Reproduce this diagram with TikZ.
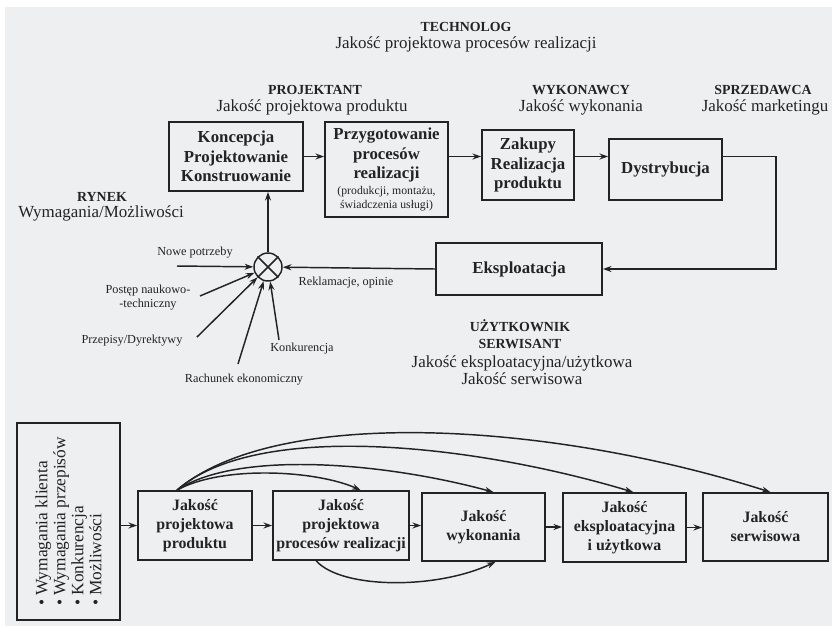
\documentclass[tikz,border=0pt]{standalone}
\usepackage{fontspec}
\setmainfont{Liberation Serif}
\usetikzlibrary{arrows.meta}

\definecolor{paper}{RGB}{238,239,240}
\definecolor{ink}{RGB}{35,35,35}

\tikzset{
  boxtxt/.style={align=center, text=ink, inner sep=0pt, font=\fontsize{12.6}{14.6}\selectfont\bfseries},
  subtxt/.style={align=center, text=ink, inner sep=0pt, font=\fontsize{8.8}{10.5}\selectfont},
  box/.style={draw=ink, line width=1.3pt, align=center, text=ink, inner sep=0pt},
  topbox/.style={box, font=\fontsize{12.6}{14.6}\selectfont\bfseries},
  lowbox/.style={box, font=\fontsize{11.9}{14.25}\selectfont\bfseries},
  role/.style={align=center, text=ink, font=\fontsize{10.4}{12.75}\selectfont\bfseries},
  quality/.style={align=center, text=ink, font=\fontsize{12.7}{12.75}\selectfont},
  input/.style={align=center, text=ink, font=\fontsize{9.2}{9.9}\selectfont},
  arr/.style={draw=ink, line width=1.1pt, -{Stealth[length=6.5pt,width=4.5pt]}},
}

\begin{document}
\begin{tikzpicture}[x=0.75pt,y=0.75pt,yscale=-1,xscale=1]

\useasboundingbox (0,0) rectangle (835,626);
\fill[white] (0,0) rectangle (835,626);
\fill[paper] (5,7) rectangle (832,626);

% roles
\node[role] (technolog) at (466,27) {TECHNOLOG};
\node[quality] (technolog-q) at (466,44) {Jakość projektowa procesów realizacji};
\node[role] (projektant) at (315,90) {PROJEKTANT};
\node[quality] (projektant-q) at (312,107) {Jakość projektowa produktu};
\node[role] (wykonawcy) at (581,90) {WYKONAWCY};
\node[quality] (wykonawcy-q) at (581,107) {Jakość wykonania};
\node[role] (sprzedawca) at (763,90) {SPRZEDAWCA};
\node[quality] (sprzedawca-q) at (765,107) {Jakość marketingu};
\node[role] (rynek) at (102,197) {RYNEK};
\node[quality] (rynek-q) at (101,213) {Wymagania/Możliwości};
\node[role] (uzytkownik) at (520,334.5) {UŻYTKOWNIK\\SERWISANT};
\node[quality] (uzytkownik-q) at (522,370.5) {Jakość eksploatacyjna/użytkowa\\Jakość serwisowa};

% loop
\node[topbox, minimum width=100.5pt, minimum height=51.75pt] (konc) at (236,156.5) {Koncepcja\\Projektowanie\\Konstruowanie};
\node[box, minimum width=92.25pt, minimum height=71.25pt] (przyg) at (386.5,169.5) {};
\node[boxtxt] (przyg-txt) at (386.5,155) {Przygotowanie\\procesów\\realizacji};
\node[subtxt] (przyg-sub) at (386.5,199) {(produkcji, montażu,\\świadczenia usługi)};
\node[topbox, minimum width=69pt, minimum height=52.5pt] (zakupy) at (528,165) {Zakupy\\Realizacja\\produktu};
\node[topbox, minimum width=84.75pt, minimum height=45.75pt] (dystr) at (665.5,169.5) {Dystrybucja};
\node[topbox, minimum width=124.5pt, minimum height=39pt] (eksp) at (519,269) {Eksploatacja};
\node[circle, draw=ink, line width=1.1pt, minimum size=21pt, inner sep=0pt] (sum) at (268,267) {};
\draw[ink, line width=1.1pt] (sum.north west) -- (sum.south east) (sum.north east) -- (sum.south west);

\draw[arr] (konc) -- (konc -| przyg.west);
\draw[arr] (przyg.east |- konc) -- (zakupy.west |- konc);
\draw[arr] (zakupy.east |- konc) -- (dystr.west |- konc);
\draw[arr] (dystr.east |- konc) -- ++(53,0) |- (eksp.east);
\draw[arr] (eksp.west) -- (sum);
\draw[arr] (sum) -- (sum |- konc.south);
\node[input] (reklamacje) at (346,283) {Reklamacje, opinie};

% inputs
\node[input] (nowe) at (195,253) {Nowe potrzeby};
\node[input] (postep) at (148,297.5) {Postęp naukowo-\\-techniczny};
\node[input] (przepisy) at (132,341) {Przepisy/Dyrektywy};
\node[input] (rachunek) at (244,380) {Rachunek ekonomiczny};
\node[input] (konkurencja) at (302,349) {Konkurencja};
\coordinate (nowe-in) at (177,266);
\coordinate (postep-in) at (200,296);
\coordinate (przepisy-in) at (197,337);
\coordinate (rachunek-in) at (238,364);
\coordinate (konkurencja-in) at (279,340);
\foreach \src in {nowe-in,postep-in,przepisy-in,rachunek-in,konkurencja-in}
  \draw[arr] (\src) -- (sum);

% quality chain
\node[box, rotate=90, minimum width=147.75pt, minimum height=77.25pt, align=left,
      font=\fontsize{13}{13.5}\selectfont] (wym) at (68.5,521.5)
  {\textbullet\ Wymagania klienta\\\textbullet\ Wymagania przepisów\\\textbullet\ Konkurencja\\\textbullet\ Możliwości};
\node[lowbox, minimum width=85.5pt, minimum height=51.75pt] (b1) at (195,525.5) {Jakość\\projektowa\\produktu};
\node[lowbox, minimum width=102pt, minimum height=51.75pt] (b2) at (341,525.5) {Jakość\\projektowa\\procesów realizacji};
\node[lowbox, minimum width=92.25pt, minimum height=51pt] (b3) at (483.5,527) {Jakość\\wykonania};
\node[lowbox, minimum width=92.25pt, minimum height=51.75pt] (b4) at (624.5,527.5) {Jakość\\eksploatacyjna\\i użytkowa};
\node[lowbox, minimum width=93.75pt, minimum height=51pt] (b5) at (765.5,527) {Jakość\\serwisowa};

\draw[arr] (wym.south |- b1.west) -- (b1.west);
\draw[arr] (b1.east) -- (b1.east -| b2.west);
\draw[arr] (b2.east) -- (b2.east -| b3.west);
\draw[arr] (b3.east) -- (b3.east -| b4.west);
\draw[arr] (b4.east) -- (b4.east -| b5.west);

\draw[arr] (b1.117) .. controls +(45,-25) and +(-45,-20) .. (b2.61);
\draw[arr] (b1.117) .. controls +(60,-40) and +(-110,-30) .. (b3.74);
\draw[arr] (b1.117) .. controls +(80,-70) and +(-160,-48) .. (b4.76);
\draw[arr] (b1.117) .. controls +(100,-85) and +(-220,-70) .. (b5.82);
\draw[arr] (b2.235) .. controls +(25,28) and +(-60,28) .. (b3.289);

\end{tikzpicture}
\end{document}
